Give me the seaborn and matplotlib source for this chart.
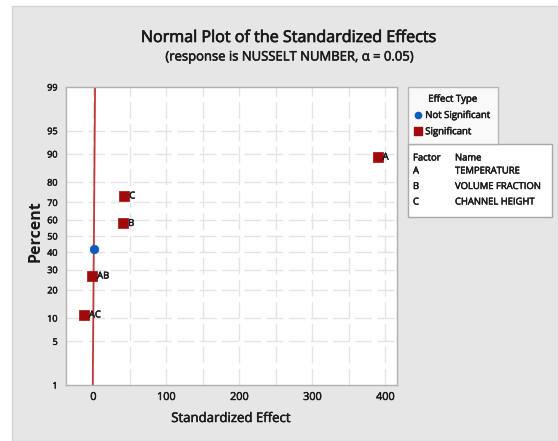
import numpy as np
import pandas as pd
import matplotlib
matplotlib.use("Agg")
import matplotlib.pyplot as plt
import matplotlib.patheffects as pe
import seaborn as sns
from statistics import NormalDist
from matplotlib.patches import Rectangle
from matplotlib.lines import Line2D

# ---- data ----
terms = ["AC", "AB", "BC", "B", "C", "A"]
effects = [-12.7, -1.5, 0.3, 41.0, 42.5, 389.6]
percents = [10.9, 26.6, 42.2, 57.8, 73.4, 89.1]
effect_type = ["Significant", "Significant", "Not Significant",
               "Significant", "Significant", "Significant"]
point_labels = ["AC", "AB", "", "B", "C", "A"]
fit_mean = 0.75
fit_sd = 0.68
fit_percents = [1, 99]
y_ticks = [1, 5, 10, 20, 30, 40, 50, 60, 70, 80, 90, 95, 99]
x_ticks = [0, 100, 200, 300, 400]
x_grid = [-50, 0, 50, 100, 150, 200, 250, 300, 350, 400]
factor_codes = ["A", "B", "C"]
factor_names = ["TEMPERATURE", "VOLUME FRACTION", "CHANNEL HEIGHT"]

df = pd.DataFrame({"Term": terms, "Effect": effects, "Percent": percents,
                   "Type": effect_type, "Label": point_labels})

sns.set_style("white")
plt.rcParams["font.family"] = ["Open Sans", "DejaVu Sans"]

ND = NormalDist()
_ppf = np.vectorize(lambda v: ND.inv_cdf(v / 100.0), otypes=[float])
_cdf = np.vectorize(lambda v: ND.cdf(v) * 100.0, otypes=[float])
def fwd(p):
    p = np.clip(np.asarray(p, dtype=float), 1e-6, 100 - 1e-6)
    return _ppf(p)
def inv(z):
    return _cdf(np.asarray(z, dtype=float))

TXT = "#1a1a1a"
BG = "#e6e6e6"
heavy = [pe.withStroke(linewidth=0.35, foreground=TXT)]
heavy2 = [pe.withStroke(linewidth=0.5, foreground=TXT)]

fig = plt.figure(figsize=(5.58, 4.41), dpi=100, facecolor="white")
fig.patches.append(Rectangle((12 / 558, 0), 1 - 12 / 558, 1 - 6 / 441,
                             transform=fig.transFigure, facecolor=BG,
                             edgecolor="#d4d4d4", lw=1, zorder=-10))
ax = fig.add_axes([66 / 558, 56 / 441, (397 - 66) / 558, (385 - 87) / 441])
ax.set_facecolor("white")
ax.set_yscale("function", functions=(fwd, inv))
ax.set_ylim(1, 99)
ax.set_xlim(-37.5, 416)

# grid
for gx in x_grid:
    ax.axvline(gx, color="#e4e4e4", lw=1, ls=(0, (12, 4)), zorder=0)
for gy in y_ticks[1:-1]:
    ax.axhline(gy, color="#e4e4e4", lw=1, ls=(0, (12, 4)), zorder=0)

# fitted line
fit_x = [fit_mean + fit_sd * ND.inv_cdf(p / 100.0) for p in fit_percents]
ax.plot(fit_x, fit_percents, color="#c0393b", lw=1.3, zorder=2)

palette = {"Not Significant": "#0a5bbf", "Significant": "#a00a0a"}
markers = {"Not Significant": "o", "Significant": "s"}
sizes = {"Not Significant": 38, "Significant": 60}
for t in ["Not Significant", "Significant"]:
    sub = df[df["Type"] == t]
    sns.scatterplot(data=sub, x="Effect", y="Percent", ax=ax, color=palette[t],
                    marker=markers[t], s=sizes[t], edgecolor=palette[t],
                    linewidth=0.5, legend=False, zorder=3)

for _, r in df.iterrows():
    if r["Label"]:
        ax.annotate(r["Label"], (r["Effect"], r["Percent"]), xytext=(3.5, 0),
                    textcoords="offset points", fontsize=6.8, va="center",
                    ha="left", color=TXT, path_effects=heavy)

ax.set_yticks(y_ticks)
ax.set_yticklabels([str(v) for v in y_ticks])
ax.set_xticks(x_ticks)
ax.minorticks_off()
ax.tick_params(axis="y", length=4, width=0.8, color="#a0a0a0", labelsize=6.5,
               pad=2, labelcolor=TXT)
ax.tick_params(axis="x", length=0, labelsize=7.8, pad=5, labelcolor=TXT)
for lab in ax.get_yticklabels() + ax.get_xticklabels():
    lab.set_path_effects(heavy)
for s in ax.spines.values():
    s.set_color("#b0b0b0")
    s.set_linewidth(1)
ax.set_xlabel("Standardized Effect", fontsize=9.5, color=TXT, path_effects=heavy)
ax.xaxis.set_label_coords(0.5, -(412 - 385) / 298)
ax.set_ylabel("Percent", fontsize=11.5, fontweight="bold", color=TXT)
ax.yaxis.set_label_coords(-(66 - 44) / 331, (385 - 231) / 298)

fig.text(289 / 558, 1 - 38 / 441, "Normal Plot of the Standardized Effects",
         ha="center", va="center", fontsize=11.6, color=TXT, path_effects=heavy2)
fig.text(289 / 558, 1 - 57 / 441,
         "(response is NUSSELT NUMBER, \u03b1 = 0.05)",
         ha="center", va="center", fontsize=9.4, color=TXT, path_effects=heavy)

# legend 1: effect type
handles = [Line2D([], [], marker="o", ls="", color=palette["Not Significant"],
                  markersize=4.5, label="Not Significant"),
           Line2D([], [], marker="s", ls="", color=palette["Significant"],
                  markersize=6, label="Significant")]
leg = fig.legend(handles=handles, title="Effect Type", loc="upper left",
                 bbox_to_anchor=(408 / 558, 1 - 87 / 441),
                 prop={"size": 6.9}, title_fontproperties={"size": 6.9},
                 frameon=True, fancybox=False,
                 edgecolor="#a8a8a8", handlelength=0.6, handletextpad=0.5,
                 borderpad=0.7, labelspacing=0.55, borderaxespad=0)
leg.get_frame().set_linewidth(1)
leg.get_title().set_color(TXT)
leg.get_title().set_path_effects(heavy)
for tx in leg.get_texts():
    tx.set_color(TXT)
    tx.set_path_effects(heavy)

# factor table
fig.patches.append(Rectangle((408 / 558, 1 - 217 / 441), (552 - 408) / 558,
                             (217 - 144) / 441, transform=fig.transFigure,
                             facecolor="white", edgecolor="#a8a8a8", lw=1))
kw = dict(fontsize=6.8, va="center", color=TXT, path_effects=heavy)
fig.text(413 / 558, 1 - 158 / 441, "Factor", **kw)
fig.text(455 / 558, 1 - 158 / 441, "Name", **kw)
for i, (c, n) in enumerate(zip(factor_codes, factor_names)):
    yy = 1 - (171 + 15.5 * i) / 441
    fig.text(413 / 558, yy, c, **kw)
    fig.text(455 / 558, yy, n, **kw)

fig.savefig("out.png", dpi=100, facecolor=fig.get_facecolor())
